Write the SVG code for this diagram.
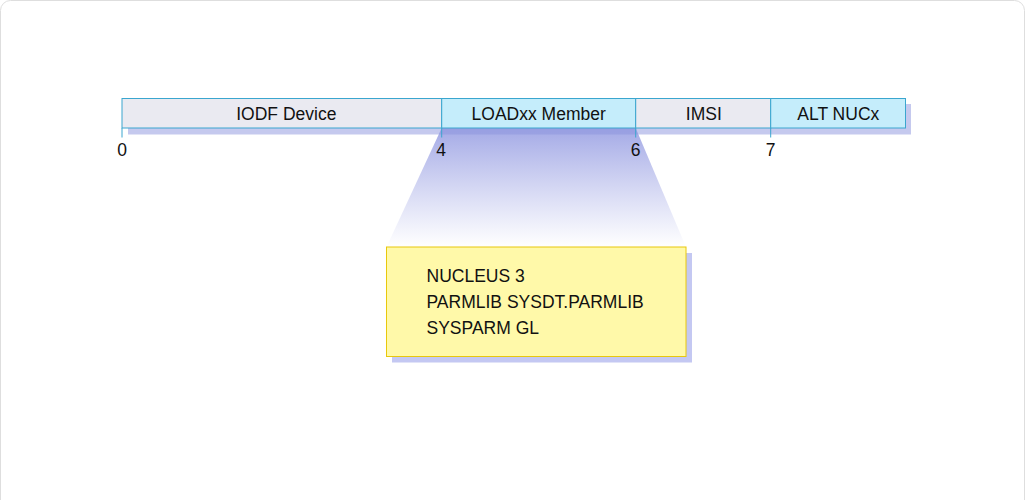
<svg xmlns="http://www.w3.org/2000/svg" width="1025" height="500" viewBox="0 0 1025 500">
<defs>
<linearGradient id="fan" x1="0" y1="0" x2="0" y2="1">
<stop offset="0" stop-color="#a4aae6"/>
<stop offset="1" stop-color="#ffffff" stop-opacity="0.9"/>
</linearGradient>
<style>
.seg{stroke:#3aa6cf;stroke-width:1}
.gray{fill:#eaeaf1}
.blue{fill:#c5edfb}
.shadow{fill:#8c94de;opacity:0.5}
.tick{stroke:#3aa6cf;stroke-width:1}
.lbl{font-family:"Liberation Sans",Arial,sans-serif;font-size:17.5px;fill:#111}
.mid{text-anchor:middle}
</style>
</defs>
<rect x="0.5" y="0.5" width="1024" height="530" rx="10" fill="#ffffff" stroke="#dedede"/>
<g id="zoom-fan">
<polygon points="441.7,128 635.7,128 686,247 386.5,247" fill="url(#fan)"/>
</g>
<g id="bar">
<rect class="shadow" x="128" y="104" width="783" height="30.5"/>
<g id="seg-iodf">
<rect class="seg gray" x="122" y="98.5" width="319.7" height="29.5"/>
<text class="lbl mid" x="286.3" y="120">IODF Device</text>
</g>
<g id="seg-loadxx">
<rect class="seg blue" x="441.7" y="98.5" width="194" height="29.5"/>
<text class="lbl mid" x="538.7" y="120">LOADxx Member</text>
</g>
<g id="seg-imsi">
<rect class="seg gray" x="635.7" y="98.5" width="135" height="29.5"/>
<text class="lbl mid" x="703.8" y="120">IMSI</text>
</g>
<g id="seg-altnuc">
<rect class="seg blue" x="770.7" y="98.5" width="134.8" height="29.5"/>
<text class="lbl mid" x="838.3" y="120">ALT NUCx</text>
</g>
</g>
<g id="ticks">
<line class="tick" x1="122" y1="128" x2="122" y2="137.5"/>
<line class="tick" x1="441.7" y1="128" x2="441.7" y2="137.5"/>
<line class="tick" x1="635.7" y1="128" x2="635.7" y2="137.5"/>
<line class="tick" x1="770.7" y1="128" x2="770.7" y2="137.5"/>
<text class="lbl mid" x="122" y="156">0</text>
<text class="lbl mid" x="441" y="156">4</text>
<text class="lbl mid" x="635.5" y="156">6</text>
<text class="lbl mid" x="770.5" y="156">7</text>
</g>
<g id="member-box">
<rect x="392" y="253" width="300" height="109.5" fill="#c4c8f2"/>
<rect x="386.5" y="247" width="299.5" height="109.5" fill="#fff9a9" stroke="#e8c80c" stroke-width="1"/>
<text class="lbl" x="426.5" y="282">NUCLEUS 3</text>
<text class="lbl" x="426.5" y="308">PARMLIB SYSDT.PARMLIB</text>
<text class="lbl" x="426.5" y="334">SYSPARM GL</text>
</g>
</svg>
